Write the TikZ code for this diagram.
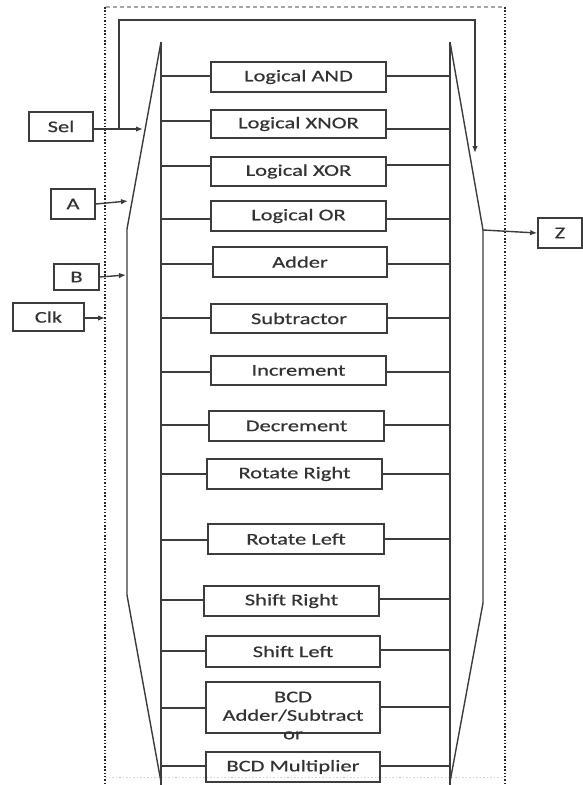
\documentclass[tikz,border=0pt]{standalone}
\usepackage{fontspec}
\setmainfont{Carlito}[FakeStretch=1.38,FakeBold=0.5]
\usetikzlibrary{arrows.meta}
\definecolor{ink}{HTML}{3C3C3C}
\definecolor{txt}{HTML}{333333}
\tikzset{
  wire/.style={draw=ink, line width=1.4pt},
  sig/.style={wire, -{Latex[length=7pt,width=5.5pt]}},
  fback/.style={draw=ink, line width=1.8pt, -{Latex[length=7pt,width=5.5pt]}},
  unit/.style={draw=ink, line width=1.5pt, inner sep=0pt, text=txt,
    font=\fontsize{16.3}{18.5}\selectfont, align=center},
  border/.style={line width=1.6pt, draw=black!85, dash pattern=on 1.5pt off 1.8pt},
}
% box by its corners: name, x1, x2, y1, y2, text
\newcommand\unitbox[6]{%
  \node[unit, minimum width={(#3-#2)*1pt}, minimum height={(#5-#4)*1pt}]
    (#1) at ({(#2+#3)/2},{(#4+#5)/2}) {#6};}
% taps from the input bus to a unit and from the unit to the output bus
\newcommand\taps[3]{%
  \draw[wire] (lbus |- 0,#2) -- (#1.west |- 0,#2);
  \draw[wire] (#1.east |- 0,#3) -- (rbus |- 0,#3);}
\begin{document}
\begin{tikzpicture}[x=1pt,y=-1pt]
\useasboundingbox (0,0) rectangle (583,785);

% enclosing block
\draw[gray!70, line width=1.2pt, dash pattern=on 4pt off 3pt] (106,7) -- (505,7);
\draw[border] (105,7) -- (105,785);
\draw[border] (505,7) -- (505,785);
\draw[gray!35, line width=1pt, dash pattern=on 1.5pt off 2pt] (105,777) -- (505,777);

% input multiplexer and bus
\coordinate (lbus) at (161,42);
\coordinate (ltop) at (161,42);
\coordinate (lk1) at (127,229);
\coordinate (lk2) at (127,595);
\coordinate (lbot) at (161,782);
\draw[wire] (ltop) -- (lk1) -- (lk2) -- (lbot);
\draw[wire] (ltop) -- (161,786);

% output multiplexer and bus
\coordinate (rbus) at (450,42);
\coordinate (rtop) at (450,42);
\coordinate (rk1) at (483,230);
\coordinate (rk2) at (483,603);
\coordinate (rbot) at (450,782);
\draw[wire] (rtop) -- (rk1) -- (rk2) -- (rbot);
\draw[wire] (rtop) -- (450,786);

% functional units
\unitbox{and}{211}{386}{62}{92}{Logical AND}
\unitbox{xnor}{211}{386}{110}{138}{Logical XNOR}
\unitbox{xor}{211}{386}{157}{186}{Logical XOR}
\unitbox{or}{211}{386}{201}{231}{Logical OR}
\unitbox{add}{213}{387}{247}{277}{Adder}
\unitbox{sub}{211}{387}{304}{333}{Subtractor}
\unitbox{inc}{211}{386}{356}{385}{Increment}
\unitbox{dec}{209}{384}{411}{441}{Decrement}
\unitbox{rotr}{207}{382}{459}{489}{Rotate Right}
\unitbox{rotl}{208}{384}{524}{554}{Rotate Left}
\unitbox{shr}{204}{379}{586}{616}{Shift Right}
\unitbox{shl}{206}{380}{636}{667}{Shift Left}
\unitbox{bcdas}{206}{380}{682}{733}{}
\node[unit, draw=none] (bcdastext) at ([yshift=-8pt]bcdas.center) {BCD\\Adder/Subtract\\or};
\unitbox{bcdm}{206}{380}{752}{782}{BCD Multiplier}

\taps{and}{76}{76}
\taps{xnor}{121}{129}
\taps{xor}{166}{165}
\taps{or}{219}{219}
\taps{add}{264}{264}
\taps{sub}{318}{318}
\taps{inc}{372}{372}
\taps{dec}{425}{425}
\taps{rotr}{474}{474}
\taps{rotl}{540}{539}
\taps{shr}{600}{599}
\taps{shl}{651}{650}
\taps{bcdas}{708}{707}
\taps{bcdm}{766}{766}

% ports
\unitbox{sel}{29}{93}{112}{141}{Sel}
\unitbox{a}{51}{95}{189}{219}{A}
\unitbox{b}{54}{99}{264}{290}{B}
\unitbox{clk}{13}{84}{303}{331}{Clk}
\unitbox{z}{538}{582}{218}{248}{Z}

\coordinate (selin) at (143,129);
\coordinate (fbj) at (119,129);
\coordinate (fbtip) at (475,153);
\draw[sig] (sel.east |- selin) -- (selin);
\draw[fback] (fbj) -- (119,20) -- (475,20) -- (fbtip);
\draw[sig] (a.east) -- (128,201);
\draw[sig] (b.east) -- (126,275);
\draw[sig] (clk.east |- 0,318) -- (105,318);
\draw[sig] (rk1) -- (z.west);
\end{tikzpicture}
\end{document}
